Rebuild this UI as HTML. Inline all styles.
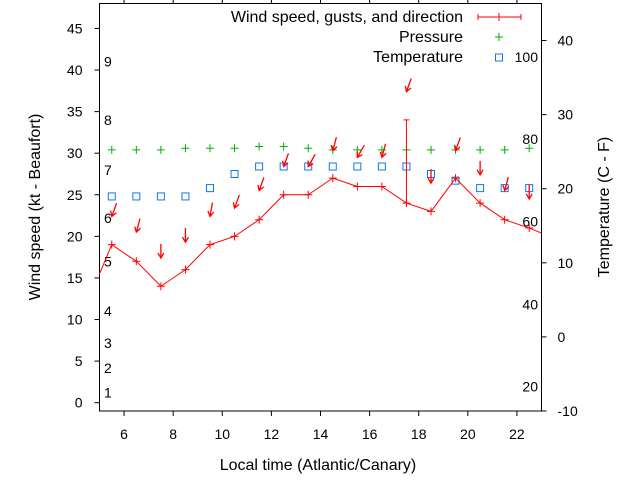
<!DOCTYPE html>
<html><head><meta charset="utf-8"><style>body{margin:0;background:#fff}svg{display:block;font-family:"Liberation Sans",sans-serif}</style></head>
<body>
<svg id="chart" width="640" height="480" viewBox="0 0 640 480" xmlns="http://www.w3.org/2000/svg"></svg>
<script>
const hours=[5.5,6.5,7.5,8.5,9.5,10.5,11.5,12.5,13.5,14.5,15.5,16.5,17.5,18.5,19.5,20.5,21.5,22.5];
const windSpeed=[19,17,14,16,19,20,22,25,25,27,26,26,24,23,27,24,22,21];
const gustHour=[17.5];
const gustValue=[34];
const pressure=[30.4,30.4,30.4,30.6,30.6,30.6,30.8,30.8,30.6,30.4,30.4,30.4,30.4,30.4,30.4,30.4,30.4,30.6];
const temperature=[24.8,24.8,24.8,24.8,25.8,27.5,28.4,28.4,28.4,28.4,28.4,28.4,28.4,27.5,26.7,25.8,25.8,25.8];
const arrowY=[22.4,20.5,17.4,19.3,22.4,23.4,25.5,28.4,28.4,30.3,29.5,29.5,37.4,26.4,30.3,27.4,25.5,24.5];
const arrowDir=[20,15,0,0,10,20,20,20,30,15,30,15,20,0,20,0,15,0];
const xTicks=[6,8,10,12,14,16,18,20,22];
const yTicks=[0,5,10,15,20,25,30,35,40,45];
const y2Ticks=[-10,0,10,20,30,40];
const beaufort=[[1,1.2],[2,4.2],[3,7.2],[4,11],[5,17],[6,22.2],[7,28],[8,34],[9,41]];
const fahr=[[20,-6.7],[40,4.4],[60,15.6],[80,26.7],[100,37.8]];
const L=99.5,R=541.5,T=3.5,B=411;
const X=v=>L+(v-5)/18*(R-L);
const Y=v=>B-(v+1)/49*(B-T);
const Y2=v=>B-(v+10)/55*(B-T);
const svg=document.getElementById('chart');const NS='http://www.w3.org/2000/svg';
function el(t,a,txt){const e=document.createElementNS(NS,t);for(const k in a)e.setAttribute(k,a[k]);if(txt!==undefined)e.textContent=txt;svg.appendChild(e);return e;}
let e;
e=el('rect',{x:L,y:T,width:R-L,height:B-T,fill:'none',stroke:'#000','stroke-width':1});

xTicks.forEach(t=>{const x=X(t);
 e=el('line',{x1:x,x2:x,y1:B,y2:B+5,stroke:'#000'});
 e=el('line',{x1:x,x2:x,y1:T,y2:T-5,stroke:'#000'});
 e=el('text',{x:x,y:B+28,'font-size':14,'text-anchor':'middle'},t);});
yTicks.forEach(t=>{const y=Y(t);
 e=el('line',{x1:L-5,x2:L,y1:y,y2:y,stroke:'#000'});
 e=el('text',{x:L-17,y:y+5,'font-size':14,'text-anchor':'end'},t);});
y2Ticks.forEach(t=>{const y=Y2(t);
 e=el('line',{x1:R,x2:R+5,y1:y,y2:y,stroke:'#000'});
 e=el('text',{x:R+16,y:y+5,'font-size':14},t);});
beaufort.forEach(b=>{e=el('text',{x:104,y:Y(b[1])+5,'font-size':14},b[0]);});
fahr.forEach(f=>{e=el('text',{x:538,y:Y2(f[1])+5,'font-size':14,'text-anchor':'end'},f[0]);});
e=el('text',{x:318,y:470,'font-size':16,'text-anchor':'middle'},'Local time (Atlantic/Canary)');
e=el('text',{x:0,y:0,'font-size':16,'text-anchor':'middle',transform:'translate(40,207) rotate(-90)'},'Wind speed (kt - Beaufort)');
e=el('text',{x:0,y:0,'font-size':16,'text-anchor':'middle',transform:'translate(609,207) rotate(-90)'},'Temperature (C - F)');
hours.forEach((h,i)=>{const x=X(h),y=Y(pressure[i]);e=el('path',{d:`M${x-4},${y}h8M${x},${y-4}v8`,stroke:'#00b000','stroke-width':1});});
hours.forEach((h,i)=>{const x=X(h),y=Y(temperature[i]);e=el('rect',{x:x-3.5,y:y-3.5,width:7,height:7,fill:'none',stroke:'#0a78f0','stroke-width':1});});
let pts=[[L,Y(15.5)]].concat(hours.map((h,i)=>[X(h),Y(windSpeed[i])]));pts.push([R,Y(20.4)]);
e=el('polyline',{points:pts.map(p=>p.join(',')).join(' '),fill:'none',stroke:'#f00','stroke-width':1});
hours.forEach((h,i)=>{const x=X(h),y=Y(windSpeed[i]);e=el('path',{d:`M${x-4},${y}h8M${x},${y-4}v8`,stroke:'#f00'});});
gustHour.forEach((h,i)=>{const x=X(h);const hi=hours.indexOf(h);e=el('path',{d:`M${x},${Y(windSpeed[hi])}V${Y(gustValue[i])}M${x-3},${Y(gustValue[i])}h6`,stroke:'#f00'});});
hours.forEach((h,i)=>{const x=X(h),y=Y(arrowY[i]);const a=arrowDir[i]*Math.PI/180;const tx=x+14*Math.sin(a),ty=y-14*Math.cos(a);
 const ux=(x-tx)/14,uy=(y-ty)/14;const px=-uy,py=ux;
 e=el('path',{d:`M${tx},${ty}L${x},${y}M${x-5*ux+3*px},${y-5*uy+3*py}L${x},${y}L${x-5*ux-3*px},${y-5*uy-3*py}`,stroke:'#f00','stroke-width':1.3,fill:'none'});
 });
e=el('text',{x:463,y:22,'font-size':16,'text-anchor':'end'},'Wind speed, gusts, and direction');
e=el('path',{d:'M478,17h43M478,14v6M521,14v6M499,13v8',stroke:'#f00'});
e=el('text',{x:463,y:42,'font-size':16,'text-anchor':'end'},'Pressure');
e=el('path',{d:'M495,37h8M499,33v8',stroke:'#00b000'});
e=el('text',{x:463,y:62,'font-size':16,'text-anchor':'end'},'Temperature');
e=el('rect',{x:495.5,y:54,width:7,height:7,fill:'none',stroke:'#0a78f0'});
</script>
</body></html>
